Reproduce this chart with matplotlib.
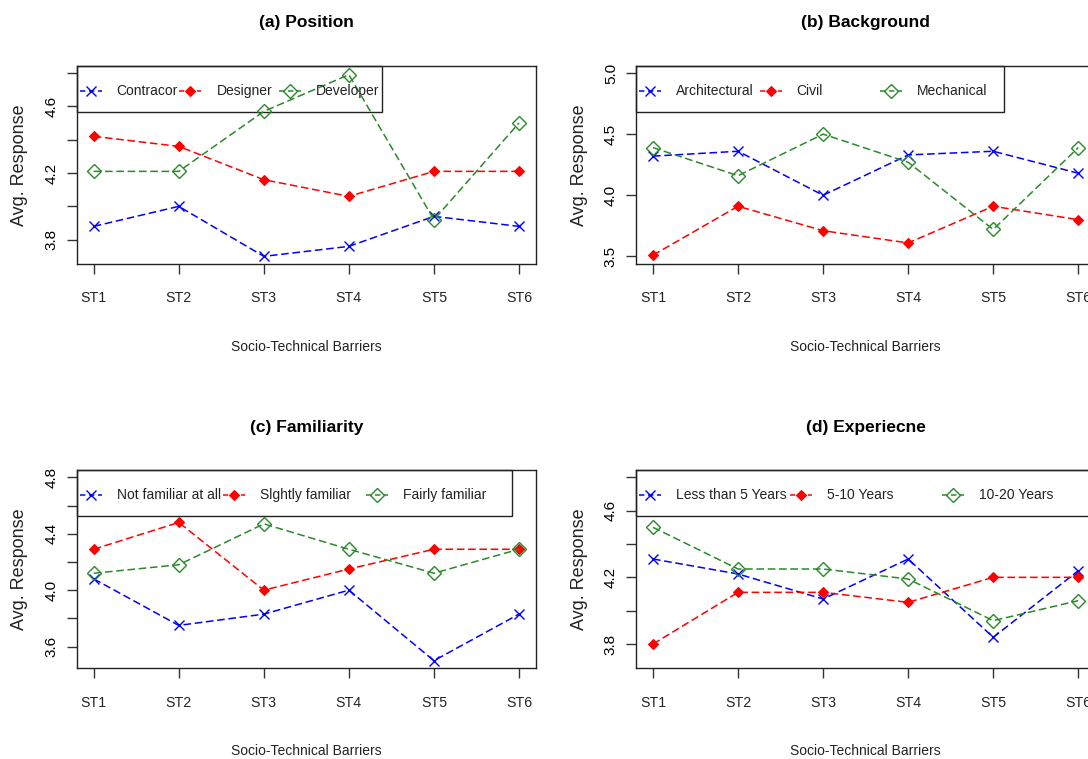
import matplotlib
matplotlib.use("Agg")
import matplotlib.pyplot as plt
from matplotlib.patches import Rectangle

categories = ["ST1", "ST2", "ST3", "ST4", "ST5", "ST6"]

titles = ["(a) Position", "(b) Background", "(c) Familiarity", "(d) Experiecne"]

position_labels = ["Contracor", "Designer", "Developer"]
contractor = [3.88, 4.00, 3.70, 3.76, 3.94, 3.88]
designer = [4.42, 4.36, 4.16, 4.06, 4.21, 4.21]
developer = [4.21, 4.21, 4.57, 4.79, 3.92, 4.50]

background_labels = ["Architectural", "Civil", "Mechanical"]
architectural = [4.32, 4.36, 4.00, 4.33, 4.36, 4.18]
civil = [3.51, 3.91, 3.71, 3.61, 3.91, 3.80]
mechanical = [4.39, 4.16, 4.50, 4.27, 3.72, 4.39]

familiarity_labels = ["Not familiar at all", "Slghtly familiar", "Fairly familiar"]
not_familiar = [4.08, 3.75, 3.83, 4.00, 3.50, 3.83]
slightly_familiar = [4.29, 4.48, 4.00, 4.15, 4.29, 4.29]
fairly_familiar = [4.12, 4.18, 4.47, 4.29, 4.12, 4.29]

experience_labels = ["Less than 5 Years", "5-10 Years", "10-20 Years"]
less_than_5 = [4.31, 4.22, 4.07, 4.31, 3.84, 4.24]
five_to_ten = [3.80, 4.11, 4.11, 4.05, 4.20, 4.20]
ten_to_twenty = [4.50, 4.25, 4.25, 4.19, 3.94, 4.06]

panels = [
    (titles[0], position_labels, [contractor, designer, developer],
     [3.8, 4.0, 4.2, 4.4, 4.6, 4.8], [3.8, 4.2, 4.6], (3.656, 4.844)),
    (titles[1], background_labels, [architectural, civil, mechanical],
     [3.5, 4.0, 4.5, 5.0], [3.5, 4.0, 4.5, 5.0], (3.44, 5.06)),
    (titles[2], familiarity_labels, [not_familiar, slightly_familiar, fairly_familiar],
     [3.6, 3.8, 4.0, 4.2, 4.4, 4.6, 4.8], [3.6, 4.0, 4.4, 4.8], (3.448, 4.852)),
    (titles[3], experience_labels, [less_than_5, five_to_ten, ten_to_twenty],
     [3.8, 4.0, 4.2, 4.4, 4.6, 4.8], [3.8, 4.2, 4.6], (3.656, 4.844)),
]

# plot boxes in pixels: left, top (figure is 1088 x 759, right column runs off the edge)
W, H = 1088, 759
box_w, box_h = 459.3, 198.0
boxes = [(76.7, 65.7), (636.0, 65.7), (76.7, 470.0), (636.0, 470.0)]
legend_col = [99.7, 120.5, 143.0, 151.3]

colors = ["#0000ff", "#ff0000", "#2a8a2a"]
styles = [dict(marker="x", ms=6.5, mew=1.0, mfc="none"),
          dict(marker="D", ms=5.0, mew=0.8),
          dict(marker="D", ms=7.3, mew=1.0, mfc="none")]

font = ["Liberation Sans", "DejaVu Sans"]
dash = (5, 2.4)

fig = plt.figure(figsize=(W / 100, H / 100), dpi=100)

for k, (title, labels, series, yticks, ylabelled, ylim) in enumerate(panels):
    left, top = boxes[k]
    ax = fig.add_axes([left / W, 1 - (top + box_h) / H, box_w / W, box_h / H])
    x = list(range(1, len(categories) + 1))
    for vals, c, st in zip(series, colors, styles):
        ax.plot(x, vals, color=c, lw=1.1, ls="--", dashes=dash, mec=c,
                mfc=st.get("mfc", c), marker=st["marker"], ms=st["ms"], mew=st["mew"])
    ax.set_xlim(0.8, 6.2)
    ax.set_ylim(*ylim)
    ax.set_xticks(x)
    ax.set_xticklabels(categories, family=font, fontsize=10.2, color="#222222")
    ax.set_yticks(yticks)
    ax.set_yticklabels([f"{v:.1f}" if v in ylabelled else "" for v in yticks],
                       family=font, fontsize=11, rotation=90, va="center")
    ax.tick_params(axis="x", length=7, width=1.0, pad=13, color="#333333")
    ax.tick_params(axis="y", length=7, width=1.0, pad=6, color="#333333")
    for sp in ax.spines.values():
        sp.set_linewidth(1.0)
        sp.set_color("#222222")

    ax.annotate(title, xy=(0.5, 1), xycoords="axes fraction", xytext=(0, 42.7),
                textcoords="offset pixels", ha="center", va="center",
                family=font, fontsize=12.5, fontweight="bold")
    ax.annotate("Socio-Technical Barriers", xy=(0.5, 0), xycoords="axes fraction",
                xytext=(0, -83), textcoords="offset pixels", ha="center", va="center",
                family=font, fontsize=10, color="#222222")
    ax.annotate("Avg. Response", xy=(0, 0.5), xycoords="axes fraction",
                xytext=(-57, 0), textcoords="offset pixels", ha="center", va="center",
                rotation=90, family=font, fontsize=13, color="#222222")

    # horizontal R-style legend, drawn in pixel offsets from the box's top-left corner
    col = legend_col[k]
    fx = lambda px: px / box_w
    fy = lambda py: 1 - py / box_h
    ax.add_patch(Rectangle((0, fy(46)), fx(3 * col + 6), 46 / box_h, transform=ax.transAxes,
                           fill=False, ec="#222222", lw=1.0, clip_on=False))
    for i, (lab, c, st) in enumerate(zip(labels, colors, styles)):
        mx = 14 + i * col
        ax.plot([fx(mx - 11), fx(mx + 11)], [fy(25), fy(25)], transform=ax.transAxes,
                color=c, lw=1.1, ls="--", dashes=(3.5, 2.4), clip_on=False)
        ax.plot([fx(mx)], [fy(25)], transform=ax.transAxes, ls="none", clip_on=False,
                color=c, mec=c, mfc=st.get("mfc", c), marker=st["marker"],
                ms=st["ms"], mew=st["mew"])
        ax.text(fx(mx + 26), fy(25), lab, transform=ax.transAxes, ha="left", va="center",
                family=font, fontsize=10, color="#222222")

fig.savefig("out.png", dpi=100)
